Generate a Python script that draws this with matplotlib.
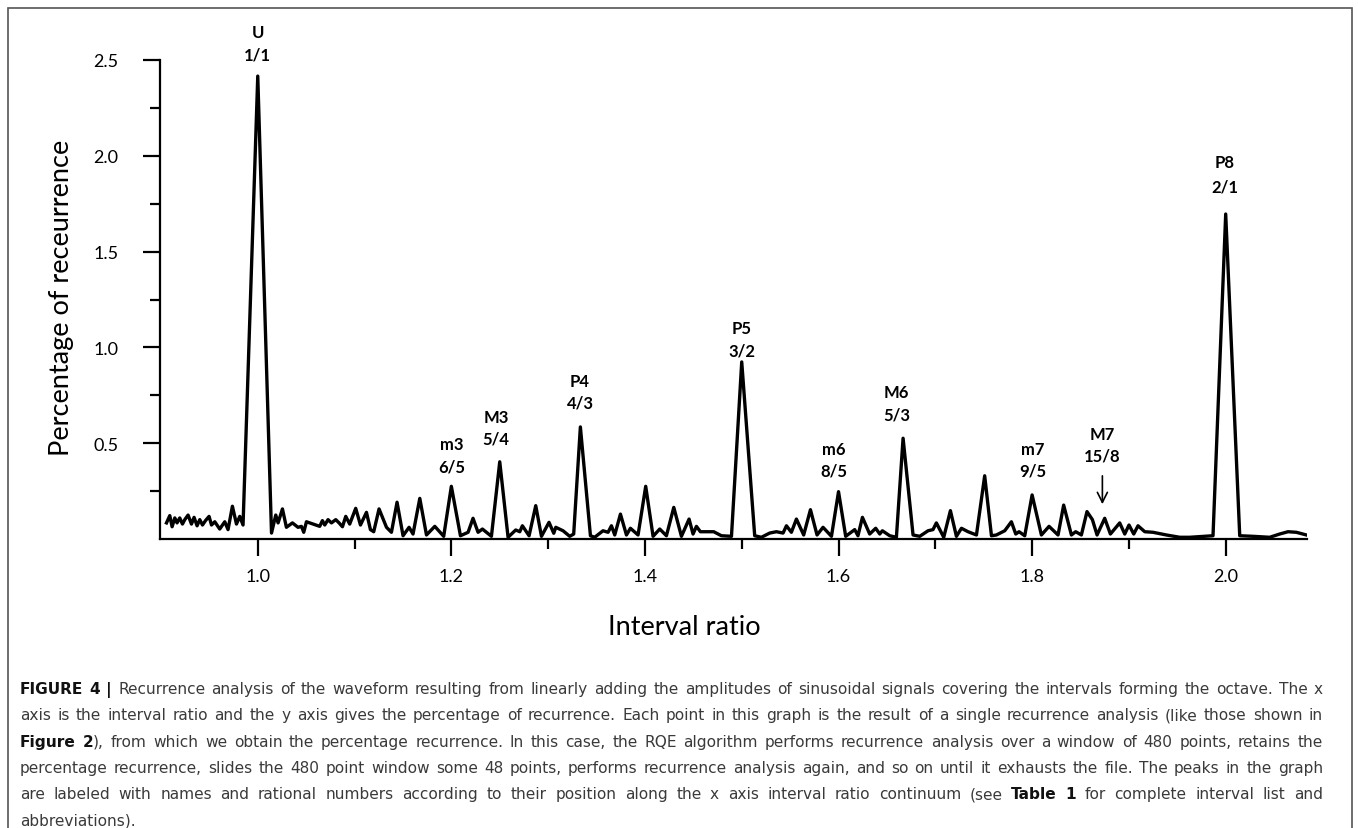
import matplotlib
matplotlib.use('Agg')
import matplotlib.pyplot as plt
from matplotlib import font_manager as fm
from matplotlib.patches import Rectangle

# interval ratio vs percentage of recurrence
ratio = [
    0.9057, 0.9091, 0.9115, 0.9143, 0.9166, 0.9194, 0.9222, 0.9246, 0.9280, 0.9315,
    0.9342, 0.9373, 0.9401, 0.9429, 0.9460, 0.9497, 0.9522, 0.9556, 0.9607, 0.9659,
    0.9693, 0.9738, 0.9780, 0.9814, 0.9848, 1.0000, 1.0142, 1.0186, 1.0210, 1.0255,
    1.0296, 1.0358, 1.0416, 1.0451, 1.0475, 1.0503, 1.0571, 1.0640, 1.0668, 1.0692,
    1.0726, 1.0761, 1.0806, 1.0840, 1.0875, 1.0909, 1.0950, 1.1012, 1.1061, 1.1123,
    1.1164, 1.1198, 1.1253, 1.1330, 1.1381, 1.1439, 1.1501, 1.1563, 1.1604, 1.1674,
    1.1743, 1.1829, 1.1921, 1.2000, 1.2094, 1.2173, 1.2224, 1.2276, 1.2321, 1.2414,
    1.2500, 1.2586, 1.2665, 1.2707, 1.2734, 1.2803, 1.2872, 1.2931, 1.3009, 1.3058,
    1.3079, 1.3154, 1.3223, 1.3264, 1.3333, 1.3437, 1.3481, 1.3567, 1.3619, 1.3654,
    1.3688, 1.3747, 1.3809, 1.3850, 1.3929, 1.4008, 1.4084, 1.4153, 1.4222, 1.4298,
    1.4377, 1.4456, 1.4497, 1.4532, 1.4573, 1.4711, 1.4790, 1.4894, 1.5000, 1.5134,
    1.5203, 1.5289, 1.5358, 1.5427, 1.5462, 1.5513, 1.5565, 1.5640, 1.5710, 1.5778,
    1.5840, 1.5927, 1.6000, 1.6074, 1.6167, 1.6201, 1.6247, 1.6322, 1.6384, 1.6426,
    1.6453, 1.6529, 1.6598, 1.6667, 1.6770, 1.6839, 1.6925, 1.6976, 1.7011, 1.7087,
    1.7156, 1.7218, 1.7270, 1.7338, 1.7425, 1.7510, 1.7580, 1.7631, 1.7717, 1.7786,
    1.7831, 1.7865, 1.7924, 1.8000, 1.8096, 1.8175, 1.8268, 1.8326, 1.8406, 1.8450,
    1.8509, 1.8567, 1.8623, 1.8671, 1.8750, 1.8809, 1.8905, 1.8957, 1.9001, 1.9050,
    1.9094, 1.9164, 1.9249, 1.9387, 1.9525, 1.9628, 1.9869, 2.0000, 2.0145, 2.0282,
    2.0455, 2.0558, 2.0644, 2.0730, 2.0834]

recurrence = [
    0.084, 0.122, 0.064, 0.110, 0.084, 0.110, 0.078, 0.101, 0.125, 0.078,
    0.113, 0.069, 0.101, 0.073, 0.096, 0.118, 0.073, 0.090, 0.052, 0.090,
    0.049, 0.171, 0.078, 0.118, 0.073, 2.416, 0.031, 0.125, 0.084, 0.157,
    0.061, 0.084, 0.061, 0.066, 0.035, 0.090, 0.078, 0.066, 0.096, 0.073,
    0.101, 0.084, 0.101, 0.084, 0.064, 0.118, 0.078, 0.160, 0.073, 0.139,
    0.049, 0.038, 0.157, 0.061, 0.035, 0.192, 0.017, 0.061, 0.026, 0.212,
    0.021, 0.066, 0.014, 0.275, 0.017, 0.035, 0.108, 0.035, 0.052, 0.014,
    0.403, 0.009, 0.047, 0.038, 0.069, 0.017, 0.174, 0.014, 0.087, 0.030,
    0.061, 0.043, 0.014, 0.026, 0.585, 0.017, 0.009, 0.043, 0.035, 0.069,
    0.021, 0.130, 0.021, 0.056, 0.021, 0.275, 0.014, 0.052, 0.017, 0.165,
    0.014, 0.104, 0.026, 0.066, 0.038, 0.038, 0.017, 0.014, 0.924, 0.017,
    0.009, 0.031, 0.038, 0.031, 0.069, 0.035, 0.104, 0.021, 0.153, 0.021,
    0.061, 0.014, 0.247, 0.014, 0.049, 0.017, 0.113, 0.026, 0.056, 0.026,
    0.043, 0.017, 0.009, 0.526, 0.021, 0.014, 0.043, 0.049, 0.084, 0.009,
    0.148, 0.014, 0.056, 0.038, 0.021, 0.330, 0.017, 0.021, 0.043, 0.090,
    0.026, 0.038, 0.017, 0.230, 0.021, 0.066, 0.021, 0.177, 0.021, 0.038,
    0.021, 0.143, 0.101, 0.021, 0.108, 0.026, 0.084, 0.026, 0.073, 0.026,
    0.069, 0.038, 0.035, 0.021, 0.009, 0.009, 0.017, 1.696, 0.017, 0.014,
    0.009, 0.026, 0.038, 0.035, 0.021]

peak_names = ['U', 'm3', 'M3', 'P4', 'P5', 'm6', 'M6', 'm7', 'M7', 'P8']
peak_fracs = ['1/1', '6/5', '5/4', '4/3', '3/2', '8/5', '5/3', '9/5', '15/8', '2/1']

xticks = [1.0, 1.2, 1.4, 1.6, 1.8, 2.0]
yticks = [0.5, 1.0, 1.5, 2.0, 2.5]

# where the two label lines sit (x, y of name line, y of fraction line)
label_pos = [(1.0, 2.648, 2.531), (1.2, 0.496, 0.376), (1.246, 0.637, 0.522),
             (1.333, 0.826, 0.715), (1.4997, 1.101, 0.986), (1.595, 0.470, 0.356),
             (1.66, 0.767, 0.652), (1.8006, 0.470, 0.356), (1.8726, 0.548, 0.435),
             (1.999, 1.968, 1.842)]

caption = [
    "**FIGURE 4 |** Recurrence analysis of the waveform resulting from linearly adding the amplitudes of sinusoidal signals covering the intervals forming the octave. The x",
    "axis is the interval ratio and the y axis gives the percentage of recurrence. Each point in this graph is the result of a single recurrence analysis (like those shown in",
    "**Figure 2**), from which we obtain the percentage recurrence. In this case, the RQE algorithm performs recurrence analysis over a window of 480 points, retains the",
    "percentage recurrence, slides the 480 point window some 48 points, performs recurrence analysis again, and so on until it exhausts the file. The peaks in the graph",
    "are labeled with names and rational numbers according to their position along the x axis interval ratio continuum (see **Table 1** for complete interval list and",
    "abbreviations).",
]

plt.rcParams['font.family'] = ['Lato', 'DejaVu Sans']
W, H = 1358, 829
fig = plt.figure(figsize=(W / 100, H / 100), dpi=100)
ax = fig.add_axes([160 / W, 1 - 540 / H, 1147 / W, 479 / H])

ax.plot(ratio, recurrence, color='black', lw=2.4)
ax.set_xlim(0.899, 2.084)
ax.set_ylim(0, 2.5)

for s in ['top', 'right']:
    ax.spines[s].set_visible(False)
for s in ['left', 'bottom']:
    ax.spines[s].set_linewidth(1.6)

ax.set_xticks(xticks)
ax.set_xticklabels(['%.1f' % v for v in xticks])
ax.set_xticks([1.1, 1.3, 1.5, 1.7, 1.9], minor=True)
ax.set_yticks(yticks)
ax.set_yticklabels(['%.1f' % v for v in yticks])
ax.set_yticks([0.25, 0.75, 1.25, 1.75, 2.25], minor=True)
ax.tick_params(which='major', direction='out', length=12, width=1.6, labelsize=13)
ax.tick_params(which='minor', direction='out', length=7, width=1.6)
ax.tick_params(axis='y', which='major', pad=18)
ax.tick_params(axis='x', which='major', pad=9)

for name, frac, (lx, ny, fy) in zip(peak_names, peak_fracs, label_pos):
    ax.text(lx, ny, name, ha='center', va='center', fontsize=12, fontweight='bold', clip_on=False)
    ax.text(lx, fy, frac, ha='center', va='center', fontsize=12, fontweight='bold', clip_on=False)

ax.annotate('', xy=(1.8726, 0.167), xytext=(1.8726, 0.344),
            arrowprops=dict(arrowstyle='->', color='black', lw=1.2, mutation_scale=18))

fig.text(684 / W, 1 - 628 / H, 'Interval ratio', ha='center', va='center', fontsize=19.5)
fig.text(62 / W, 1 - 298 / H, 'Percentage of receurrence', ha='center', va='center',
         rotation=90, fontsize=19.5)

# frame around figure + caption
fig.patches.append(Rectangle((8 / W, -0.02), 1344 / W, 1.02 - 9 / H, transform=fig.transFigure,
                             fill=False, edgecolor='#555555', lw=1.2))

# ---- caption, justified word by word ----
r = fig.canvas.get_renderer()


def parse(line):
    words = []
    bold = False
    for w in line.split(' '):
        pieces = []
        for i, part in enumerate(w.split('**')):
            if i > 0:
                bold = not bold
            if part:
                pieces.append((part, bold))
        words.append(pieces)
    return words


def measure(s, bold, size, fam, stretch):
    t = fig.text(0, 0, s, fontsize=size, fontweight='bold' if bold else 'normal',
                 family=[fam, 'DejaVu Sans'], fontstretch=stretch)
    w = t.get_window_extent(r).width
    t.remove()
    return w


left, right = 20, 1323
base = 11.5
parsed = [parse(l) for l in caption]

# pick the installed font whose natural line width best matches the
# reference at about the reference text height
names = {e.name for e in fm.fontManager.ttflist}
options = []
for fam in ['Liberation Sans Narrow', 'Noto Sans', 'Roboto', 'Open Sans', 'DejaVu Sans']:
    if fam in names:
        for st in ['semi-condensed', 'condensed', 'normal']:
            options.append((fam, st))
for fam in ['Liberation Sans', 'Inter', 'Lato']:
    if fam in names:
        options.append((fam, 'normal'))

best = None
for fam, st in options:
    sp = measure('a a', False, base, fam, st) - measure('aa', False, base, fam, st)
    nat = max(sum(measure(p, b, base, fam, st) for w in words for p, b in w)
              + sp * (len(words) - 1) for words in parsed[:-1])
    size = base * (right - left) * 0.985 / nat
    score = abs(size - base)
    if best is None or score < best[0]:
        best = (score, fam, st, size, sp * size / base)

_, cap_fam, cap_st, size, space = best

for i, words in enumerate(parsed):
    widths = [[measure(p, b, size, cap_fam, cap_st) for p, b in w] for w in words]
    total = sum(sum(ws) for ws in widths)
    if i < len(parsed) - 1:
        gap = (right - left - total) / (len(words) - 1)
    else:
        gap = space
    x = left
    yb = 1 - (694 + 26.3 * i) / H
    for w, ws in zip(words, widths):
        for (p, b), pw in zip(w, ws):
            fig.text(x / W, yb, p, fontsize=size, fontweight='bold' if b else 'normal',
                     family=[cap_fam, 'DejaVu Sans'], fontstretch=cap_st,
                     va='baseline', ha='left', color='#111111' if b else '#3a3a3a')
            x += pw
        x += gap

fig.savefig('out.png', dpi=100)
